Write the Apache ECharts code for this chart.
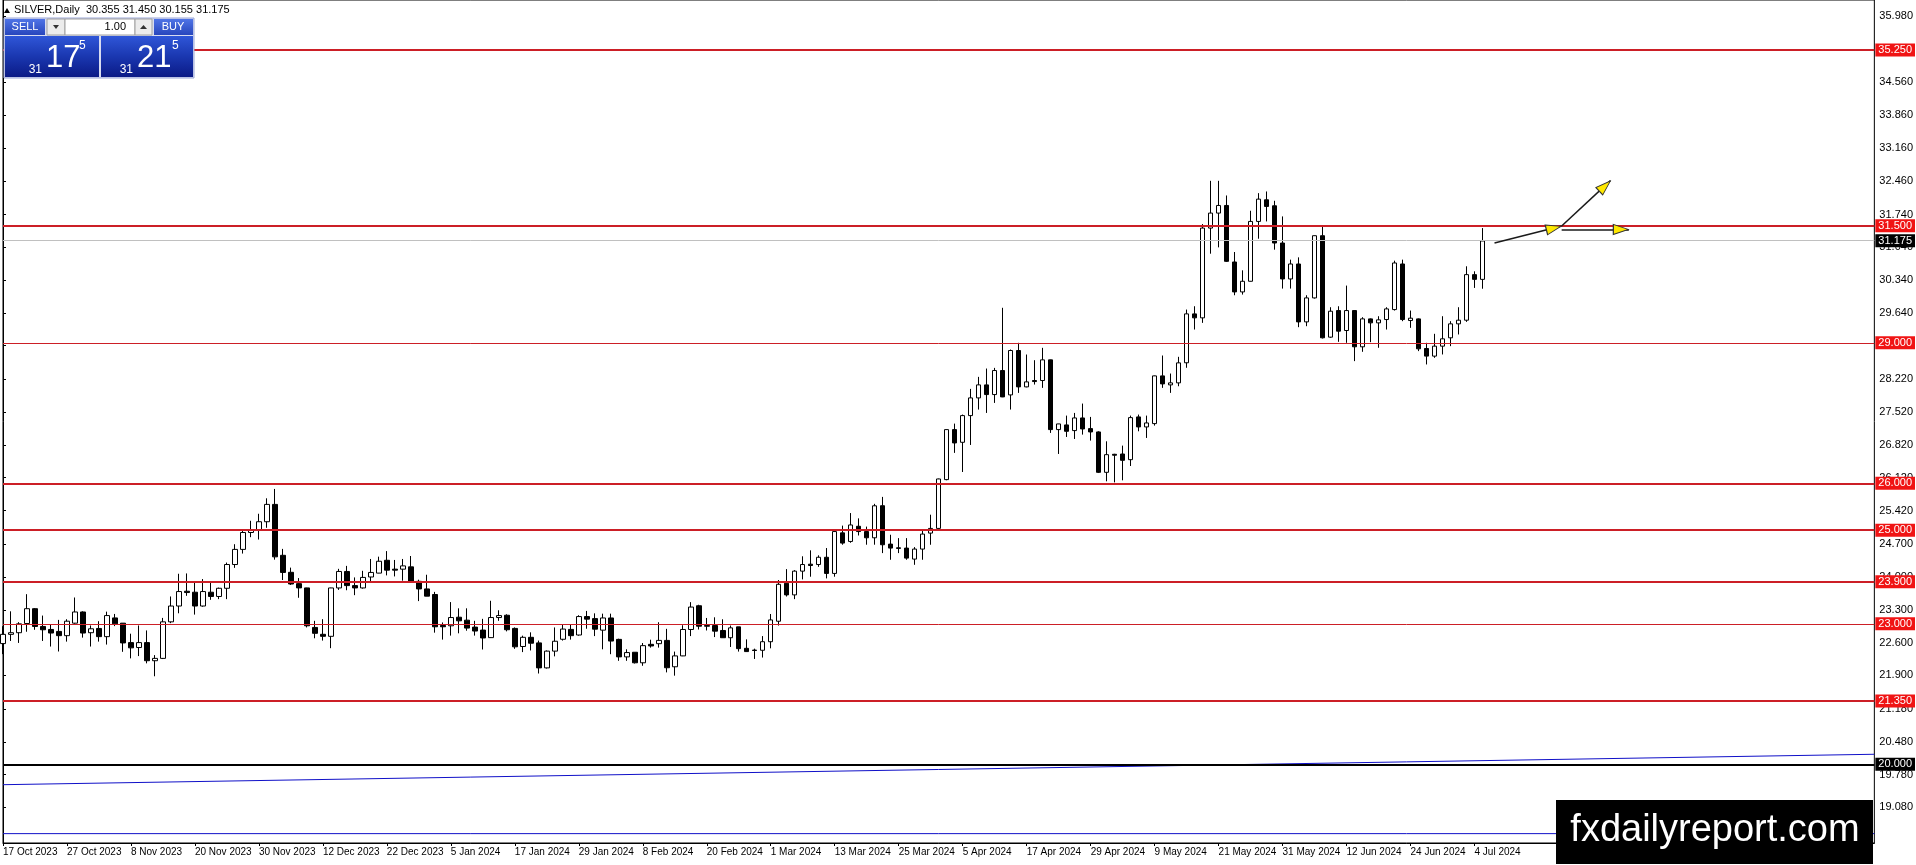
<!DOCTYPE html>
<html>
<head>
<meta charset="utf-8">
<title>SILVER Daily</title>
<script src="https://cdn.jsdelivr.net/npm/echarts/dist/echarts.min.js"></script>
<style>
  html, body { margin: 0; padding: 0; background: #ffffff; }
  #chart { width: 1916px; height: 865px; }
</style>
</head>
<body>
<div id="chart"></div>
<script>
// ---------------- DATA ----------------
const symbolName = 'SILVER,Daily';
const firstDay = '2023-10-17';
const lastDay = '2024-07-05';
const holidays = ['2023-12-25', '2024-01-01', '2024-03-29'];

const opens = [22.578,22.775,22.810,23.007,23.323,22.944,22.880,22.838,22.747,23.014,
23.253,22.810,22.901,22.726,23.126,23.014,22.599,22.494,22.599,22.212,
22.262,23.042,23.380,23.696,23.675,23.380,23.675,23.584,23.759,24.266,
24.589,24.950,25.000,25.180,25.550,24.463,24.100,23.858,23.767,22.923,
22.776,22.733,23.766,24.118,23.816,23.766,24.000,24.083,24.357,24.167,
24.167,24.216,23.907,23.745,23.626,22.965,22.958,23.141,23.078,22.930,
22.867,22.705,23.134,23.183,22.902,22.516,22.712,22.593,22.059,22.417,
22.670,22.881,22.761,23.155,23.111,22.865,23.125,22.668,22.294,22.393,
22.168,22.562,22.576,22.646,22.083,22.315,22.879,23.386,22.963,22.963,
22.858,22.703,22.935,22.477,22.440,22.435,22.618,23.055,23.865,23.618,
24.125,24.273,24.266,24.421,24.076,24.942,24.759,25.083,24.970,24.837,
25.522,24.702,24.624,24.617,24.382,24.596,24.937,25.037,26.079,27.147,
26.876,27.446,27.824,28.102,27.895,28.408,27.888,28.836,28.059,28.195,
28.195,28.636,27.147,27.247,27.126,27.396,27.168,27.097,26.235,26.620,
26.626,26.505,27.418,27.204,27.275,28.294,28.102,28.145,28.574,29.618,
29.533,31.450,31.770,31.933,30.726,30.087,30.314,31.592,32.054,31.926,
31.131,30.364,30.683,29.447,29.959,31.287,29.121,29.689,29.263,29.689,
28.915,29.511,29.426,29.497,29.710,30.683,29.476,29.511,28.879,28.716,
28.929,29.107,29.405,29.483,30.456,30.355];

const highs = [22.950,23.267,23.035,23.633,23.337,23.176,22.986,23.084,23.098,23.562,
23.267,22.965,23.056,23.260,23.211,23.014,22.789,22.965,22.859,22.332,
23.126,23.584,24.069,24.076,23.899,23.956,23.879,23.773,24.308,24.700,
25.020,25.200,25.350,25.680,25.880,24.600,24.200,23.977,23.770,23.064,
23.099,23.770,24.174,24.237,23.991,24.132,24.385,24.434,24.553,24.364,
24.385,24.448,23.942,24.048,23.682,23.029,23.464,23.331,23.331,23.064,
23.106,23.492,23.289,23.204,22.923,22.747,22.818,22.642,22.431,22.923,
22.979,22.979,23.183,23.275,23.224,23.217,23.217,22.682,22.456,22.393,
22.590,22.661,23.034,22.893,22.407,22.970,23.463,23.407,23.125,23.139,
23.097,22.963,22.935,22.668,22.470,22.738,23.210,23.935,24.168,24.146,
24.442,24.569,24.463,24.618,24.990,25.097,25.365,25.252,25.076,25.562,
25.710,24.902,24.830,24.830,24.638,25.023,25.330,26.100,27.150,27.275,
27.468,28.016,28.273,28.451,28.465,29.748,28.857,29.000,28.750,28.629,
28.893,28.640,27.270,27.446,27.503,27.703,27.418,27.111,26.897,26.630,
26.805,27.446,27.468,27.446,28.300,28.729,28.344,28.701,29.710,29.781,
31.536,32.459,32.459,32.146,30.939,30.548,31.820,32.196,32.232,32.033,
31.699,30.776,30.825,30.016,31.290,31.486,29.760,29.781,30.222,29.690,
29.547,29.520,29.568,29.760,30.754,30.776,29.689,29.520,29.000,29.192,
29.568,29.462,29.760,30.634,30.527,31.450];

const lows = [22.353,22.634,22.592,22.831,22.873,22.634,22.515,22.409,22.620,23.000,
22.705,22.515,22.620,22.557,22.951,22.402,22.262,22.311,22.156,21.880,
22.248,23.014,23.225,23.598,23.197,23.366,23.513,23.527,23.527,24.195,
24.500,24.850,24.800,25.050,24.370,23.935,23.830,23.556,22.923,22.691,
22.642,22.480,23.724,23.717,23.612,23.752,23.907,24.080,24.034,24.012,
23.921,23.900,23.485,23.590,22.811,22.663,22.748,22.797,22.853,22.748,
22.452,22.700,23.064,22.839,22.466,22.396,22.431,21.939,22.045,22.305,
22.642,22.663,22.747,22.895,22.738,22.456,22.351,22.210,22.210,22.153,
22.104,22.492,22.492,21.963,21.893,22.310,22.738,22.879,22.858,22.717,
22.700,22.506,22.407,22.400,22.250,22.280,22.477,22.963,23.583,23.527,
23.949,24.006,24.217,23.970,24.006,24.689,24.731,24.886,24.689,24.689,
24.510,24.368,24.510,24.368,24.260,24.368,24.688,25.030,26.065,26.650,
26.242,26.819,27.575,27.503,27.717,27.840,27.575,27.931,28.050,28.109,
28.038,27.076,26.627,26.990,26.947,27.040,26.912,26.220,26.043,26.020,
26.064,26.370,27.111,26.969,27.232,28.038,27.931,28.073,28.467,29.284,
29.426,30.903,31.038,30.726,30.016,30.030,30.310,31.223,31.592,30.989,
30.158,30.158,29.334,29.355,29.945,29.093,29.107,29.021,29.000,28.609,
28.808,29.014,28.894,29.284,29.689,29.462,29.320,28.823,28.538,28.680,
28.751,28.929,29.178,29.447,30.172,30.155];

const closes = [22.775,22.810,23.000,23.323,22.944,22.873,22.803,22.747,23.056,23.253,
22.803,22.894,22.726,23.176,23.000,22.592,22.487,22.599,22.212,22.262,
23.042,23.380,23.689,23.668,23.380,23.689,23.584,23.759,24.266,24.589,
24.950,25.000,25.180,25.550,24.430,24.097,23.850,23.767,22.958,22.797,
22.733,23.766,24.118,23.816,23.766,23.991,24.097,24.336,24.146,24.146,
24.237,23.907,23.745,23.591,22.937,22.937,23.134,23.064,22.909,22.846,
22.698,23.134,23.176,22.874,22.509,22.712,22.586,22.059,22.417,22.628,
22.888,22.747,23.155,23.100,22.886,23.125,22.632,22.294,22.386,22.168,
22.534,22.527,22.646,22.062,22.315,22.879,23.358,22.949,22.949,22.844,
22.703,22.914,22.470,22.407,22.430,22.618,23.083,23.844,23.618,24.125,
24.266,24.245,24.421,24.076,24.970,24.724,25.111,24.970,24.837,25.520,
24.688,24.617,24.610,24.403,24.596,24.916,25.037,26.093,27.147,26.862,
27.446,27.824,28.102,27.895,28.408,27.845,28.836,28.059,28.166,28.173,
28.636,27.147,27.268,27.111,27.396,27.161,27.097,26.235,26.612,26.600,
26.491,27.403,27.204,27.289,28.294,28.123,28.145,28.572,29.618,29.533,
31.450,31.770,31.933,30.740,30.087,30.314,31.592,32.068,31.912,31.131,
30.364,30.683,29.447,29.959,31.287,29.107,29.675,29.249,29.689,28.915,
29.511,29.426,29.490,29.724,30.705,29.497,29.526,28.872,28.716,28.929,
29.085,29.405,29.483,30.456,30.355,31.175];

// price axis tick labels (right scale)
const yTickValues = [35.98,34.56,33.86,33.16,32.46,31.74,31.04,30.34,29.64,28.94,28.22,
  27.52,26.82,26.12,25.42,24.70,24.00,23.30,22.60,21.90,21.18,20.48,19.78,19.08];

// drawn horizontal levels
const thickRedLevels = [35.25, 31.5, 26.0, 25.0, 23.9, 21.35];
const thinRedLevels = [29.0, 23.0];
const blackLevel = 20.0;
const bidPrice = 31.175;

// blue trend lines: [slot, price] end points
const blueTrend = [[0, 19.565], [234, 20.215]];
const blueFlat = [[0, 18.52], [234, 18.52]];

// yellow arrows drawn on chart: shafts [[slot, price],[slot, price]] and heads [slot, price, angle]
const arrowShafts = [
  [[186.5, 31.131], [194.9, 31.494]],
  [[194.9, 31.494], [201.0, 32.464]],
  [[194.9, 31.420], [203.3, 31.420]]
];
const arrowHeads = [
  [193.9, 31.451, 14],
  [200.3, 32.346, 43],
  [202.3, 31.420, 0]
];

// ---------------- BUILD ----------------
const MONTHS = ['Jan','Feb','Mar','Apr','May','Jun','Jul','Aug','Sep','Oct','Nov','Dec'];
const dates = [];
for (let d = new Date(firstDay + 'T00:00:00Z'); d <= new Date(lastDay + 'T00:00:00Z'); d.setUTCDate(d.getUTCDate() + 1)) {
  const wd = d.getUTCDay();
  const iso = d.toISOString().slice(0, 10);
  if (wd === 0 || wd === 6 || holidays.includes(iso)) continue;
  dates.push(iso);
}
const TOTAL_SLOTS = 235;
const axisData = dates.slice();
for (let i = dates.length; i < TOTAL_SLOTS; i++) axisData.push('pad' + i);

function fmtDate(iso) {
  const p = iso.split('-');
  return (+p[2]) + ' ' + MONTHS[+p[1] - 1] + ' ' + p[0];
}
const showLabel = (idx) => idx % 8 === 0 && idx < dates.length;

const candleData = opens.map((o, i) => [o, closes[i], lows[i], highs[i]]);

const FONT = '"Liberation Sans", Arial, sans-serif';
const RED_LINE = '#cc1f26';
const RED_BOX = '#f01414';

function levelItem(v, color, width, boxColor) {
  return {
    yAxis: v,
    lineStyle: { color: color, width: width, type: 'solid' },
    label: {
      show: true, position: 'end', distance: 1,
      formatter: v.toFixed(3),
      color: '#ffffff', backgroundColor: boxColor,
      fontFamily: FONT, fontSize: 11, padding: [1, 3, 1, 3]
    }
  };
}
const markData = [];
thickRedLevels.forEach(v => markData.push(levelItem(v, RED_LINE, 2, RED_BOX)));
thinRedLevels.forEach(v => markData.push(levelItem(v, RED_LINE, 1, RED_BOX)));
markData.push(levelItem(blackLevel, '#000000', 2, '#000000'));
markData.push(levelItem(bidPrice, '#c0c0c0', 1, '#000000'));

const n = dates.length - 1;
const headerText = symbolName + '  ' + opens[n].toFixed(3) + ' ' + highs[n].toFixed(3) + ' ' +
                   lows[n].toFixed(3) + ' ' + closes[n].toFixed(3);

const blueGrad = { type: 'linear', x: 0, y: 0, x2: 0, y2: 1,
  colorStops: [{ offset: 0, color: '#4f74e6' }, { offset: 1, color: '#2746bd' }] };
const boxGrad = { type: 'linear', x: 0, y: 0, x2: 0, y2: 1,
  colorStops: [{ offset: 0, color: '#2f56d8' }, { offset: 0.5, color: '#1a37b0' }, { offset: 1, color: '#0b1a86' }] };

const graphics = [
  // header
  { type: 'polygon', z: 100, shape: { points: [[4, 13], [10, 13], [7, 8]] }, style: { fill: '#000' } },
  { type: 'text', z: 100, x: 14, y: 10, style: { text: headerText, font: '11px ' + FONT, fill: '#000', textVerticalAlign: 'middle' } },
  // one-click panel
  { type: 'rect', z: 100, shape: { x: 4, y: 18, width: 190, height: 60 }, style: { fill: '#d8dcf0', stroke: '#9aa6d8', lineWidth: 1 } },
  { type: 'rect', z: 101, shape: { x: 5, y: 19, width: 40, height: 16 }, style: { fill: blueGrad } },
  { type: 'text', z: 102, x: 25, y: 27, style: { text: 'SELL', font: '11px ' + FONT, fill: '#fff', textAlign: 'center', textVerticalAlign: 'middle' } },
  { type: 'rect', z: 101, shape: { x: 47, y: 19, width: 18, height: 16 }, style: { fill: '#ececec', stroke: '#a0a0a0', lineWidth: 1 } },
  { type: 'polygon', z: 102, shape: { points: [[53, 25], [59, 25], [56, 29]] }, style: { fill: '#333' } },
  { type: 'rect', z: 101, shape: { x: 65, y: 19, width: 70, height: 16 }, style: { fill: '#ffffff', stroke: '#a0a0a0', lineWidth: 1 } },
  { type: 'text', z: 102, x: 126, y: 27, style: { text: '1.00', font: '11px ' + FONT, fill: '#000', textAlign: 'right', textVerticalAlign: 'middle' } },
  { type: 'rect', z: 101, shape: { x: 135, y: 19, width: 17, height: 16 }, style: { fill: '#ececec', stroke: '#a0a0a0', lineWidth: 1 } },
  { type: 'polygon', z: 102, shape: { points: [[140, 29], [147, 29], [143.5, 25]] }, style: { fill: '#333' } },
  { type: 'rect', z: 101, shape: { x: 154, y: 19, width: 39, height: 16 }, style: { fill: blueGrad } },
  { type: 'text', z: 102, x: 173, y: 27, style: { text: 'BUY', font: '11px ' + FONT, fill: '#fff', textAlign: 'center', textVerticalAlign: 'middle' } },
  { type: 'rect', z: 101, shape: { x: 5, y: 36, width: 94, height: 41 }, style: { fill: boxGrad } },
  { type: 'rect', z: 101, shape: { x: 101, y: 36, width: 92, height: 41 }, style: { fill: boxGrad } },
  { type: 'text', z: 102, x: 42, y: 70, style: { text: '31', font: '12px ' + FONT, fill: '#fff', textAlign: 'right', textVerticalAlign: 'middle' } },
  { type: 'text', z: 102, x: 46, y: 58, style: { text: '17', font: '31px ' + FONT, fill: '#fff', textAlign: 'left', textVerticalAlign: 'middle' } },
  { type: 'text', z: 102, x: 79, y: 46, style: { text: '5', font: '12px ' + FONT, fill: '#fff', textAlign: 'left', textVerticalAlign: 'middle' } },
  { type: 'text', z: 102, x: 133, y: 70, style: { text: '31', font: '12px ' + FONT, fill: '#fff', textAlign: 'right', textVerticalAlign: 'middle' } },
  { type: 'text', z: 102, x: 137, y: 58, style: { text: '21', font: '31px ' + FONT, fill: '#fff', textAlign: 'left', textVerticalAlign: 'middle' } },
  { type: 'text', z: 102, x: 172, y: 46, style: { text: '5', font: '12px ' + FONT, fill: '#fff', textAlign: 'left', textVerticalAlign: 'middle' } },
  // watermark
  { type: 'rect', z: 100, shape: { x: 1556, y: 800, width: 317, height: 64 }, style: { fill: '#000' } },
  { type: 'text', z: 101, x: 1715, y: 831, style: { text: 'fxdailyreport.com', font: '38px ' + FONT, fill: '#fff', textAlign: 'center', textVerticalAlign: 'middle' } }
];

const chart = echarts.init(document.getElementById('chart'), null, { renderer: 'canvas' });
chart.setOption({
  animation: false,
  backgroundColor: '#ffffff',
  grid: { left: 3, right: 41, top: 0, bottom: 22, show: true, borderColor: '#000', borderWidth: 1, backgroundColor: '#fff' },
  xAxis: [
    {
      type: 'category', data: axisData, boundaryGap: false,
      axisLine: { show: true, lineStyle: { color: '#000', width: 1 } },
      axisTick: { show: true, interval: showLabel, length: 3, lineStyle: { color: '#000' } },
      axisLabel: {
        show: true, interval: showLabel, align: 'left', margin: 4,
        fontFamily: FONT, fontSize: 10, color: '#000',
        formatter: (v, idx) => idx < dates.length ? fmtDate(v) : ''
      },
      splitLine: { show: false }
    },
    { type: 'value', min: 0, max: TOTAL_SLOTS - 1, show: false }
  ],
  yAxis: {
    type: 'value', position: 'right', min: 18.32, max: 36.32, scale: true,
    axisLine: { show: true, lineStyle: { color: '#000', width: 1 } },
    axisTick: { show: true, length: 3, customValues: yTickValues, lineStyle: { color: '#000' } },
    axisLabel: {
      show: true, customValues: yTickValues, margin: 5,
      fontFamily: FONT, fontSize: 11, color: '#000',
      formatter: v => Number(v).toFixed(3)
    },
    splitLine: { show: false }
  },
  series: [
    {
      type: 'candlestick', name: 'SILVER',
      xAxisIndex: 0, yAxisIndex: 0,
      data: candleData, barWidth: 5,
      itemStyle: { color: '#ffffff', color0: '#000000', borderColor: '#000000', borderColor0: '#000000', borderWidth: 1 },
      markLine: { silent: true, symbol: ['none', 'none'], data: markData, animation: false }
    },
    {
      type: 'line', xAxisIndex: 1, yAxisIndex: 0, data: blueTrend, showSymbol: false,
      lineStyle: { color: '#1010c8', width: 1 }, silent: true, z: 3
    },
    {
      type: 'line', xAxisIndex: 1, yAxisIndex: 0, data: blueFlat, showSymbol: false,
      lineStyle: { color: '#1010c8', width: 1 }, silent: true, z: 3
    },
    {
      type: 'lines', coordinateSystem: 'cartesian2d', xAxisIndex: 1, yAxisIndex: 0,
      data: arrowShafts.map(c => ({ coords: c })),
      lineStyle: { color: '#1a1a1a', width: 1.5, opacity: 1 }, silent: true, z: 5
    },
    {
      type: 'scatter', xAxisIndex: 1, yAxisIndex: 0,
      data: arrowHeads.map(a => ({ value: [a[0], a[1]], symbolRotate: a[2] })),
      symbol: 'path://M0,0L20,7L0,14Z', symbolSize: [15, 10],
      itemStyle: { color: '#ffe800', borderColor: '#333', borderWidth: 1, opacity: 1 },
      silent: true, z: 6
    }
  ],
  graphic: graphics
});
</script>
</body>
</html>
